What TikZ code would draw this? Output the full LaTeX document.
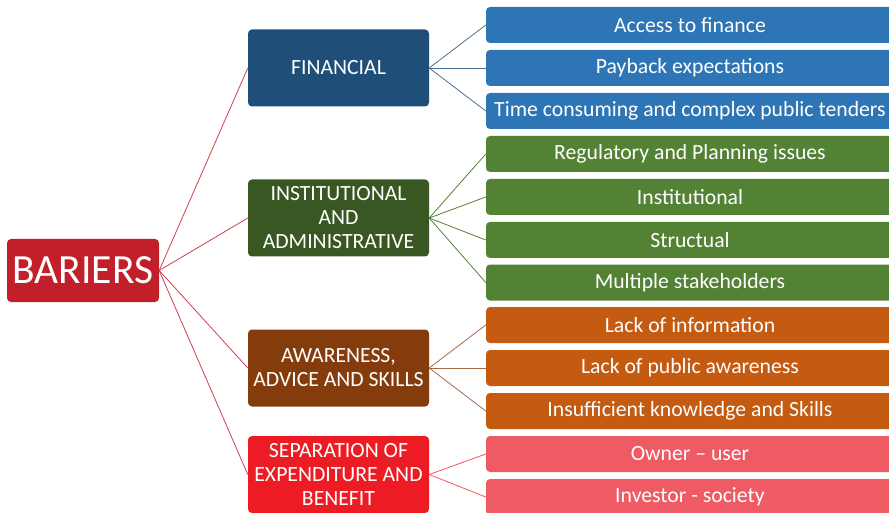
\documentclass[tikz,border=0pt]{standalone}
\usepackage{fontspec}
\setmainfont{Carlito}
\definecolor{rootred}{HTML}{C1202A}
\definecolor{finblue}{HTML}{1F4E79}
\definecolor{leafblue}{HTML}{2E75B6}
\definecolor{instgreen}{HTML}{385723}
\definecolor{leafgreen}{HTML}{548235}
\definecolor{awbrown}{HTML}{843C0C}
\definecolor{leaforange}{HTML}{C55A11}
\definecolor{sepred}{HTML}{ED1C24}
\definecolor{leafpink}{HTML}{EF5B65}
\tikzset{box/.style={rectangle,rounded corners=4pt,inner sep=0pt,text=white,align=center,font=\fontsize{21.7}{24}\selectfont},
         rootbox/.style={box,fill=rootred,minimum width=152pt,minimum height=63pt,font=\fontsize{41.5}{44}\selectfont},
         catbox/.style={box,minimum width=181pt,minimum height=77pt},
         leafbox/.style={box,minimum width=408pt,minimum height=36pt},
         link/.style={line width=0.8pt}}
\begin{document}
\begin{tikzpicture}[x=1pt,y=-1pt]
                  \useasboundingbox (0,0) rectangle (889,513);
                  % root and categories
                  \node[rootbox] (root) at (83,270.5) {BARIERS};
                  \node[catbox,fill=finblue] (fin) at (338.5,68) {FINANCIAL};
                  \node[catbox,fill=instgreen] (inst) at (338.5,218) {INSTITUTIONAL\\AND\\ADMINISTRATIVE};
                  \node[catbox,fill=awbrown] (aware) at (338.5,368) {AWARENESS,\\ADVICE AND SKILLS};
                  \node[catbox,fill=sepred] (sep) at (338.5,474.5) {SEPARATION OF\\EXPENDITURE AND\\BENEFIT};
                  % leaves
                  \node[leafbox,fill=leafblue] (f1) at (690,25) {Access to finance};
                  \node[leafbox,fill=leafblue] (f2) at (690,68) {Payback expectations};
                  \node[leafbox,fill=leafblue] (f3) at (690,111) {Time consuming and complex public tenders};
                  \node[leafbox,fill=leafgreen] (i1) at (690,154) {Regulatory and Planning issues};
                  \node[leafbox,fill=leafgreen] (i2) at (690,197) {Institutional};
                  \node[leafbox,fill=leafgreen] (i3) at (690,240) {Structual};
                  \node[leafbox,fill=leafgreen] (i4) at (690,282.5) {Multiple stakeholders};
                  \node[leafbox,fill=leaforange] (a1) at (690,325) {Lack of information};
                  \node[leafbox,fill=leaforange] (a2) at (690,368) {Lack of public awareness};
                  \node[leafbox,fill=leaforange] (a3) at (690,411) {Insufficient knowledge and Skills};
                  \node[leafbox,fill=leafpink] (s1) at (690,454) {Owner -- user};
                  \node[leafbox,fill=leafpink] (s2) at (690,497) {Investor - society};
                  % connectors
                  \foreach \c in {fin,inst,aware,sep}
                      \draw[link,rootred!85] (root.east) -- (\c.west);
                  \foreach \l in {f1,f2,f3}
                      \draw[link,finblue!80] (fin.east) -- (\l.west);
                  \foreach \l in {i1,i2,i3,i4}
                      \draw[link,leafgreen] (inst.east) -- (\l.west);
                  \foreach \l in {a1,a2,a3}
                      \draw[link,awbrown!75] (aware.east) -- (\l.west);
                  \foreach \l in {s1,s2}
                      \draw[link,sepred!75] (sep.east) -- (\l.west);
              \end{tikzpicture}
\end{document}
